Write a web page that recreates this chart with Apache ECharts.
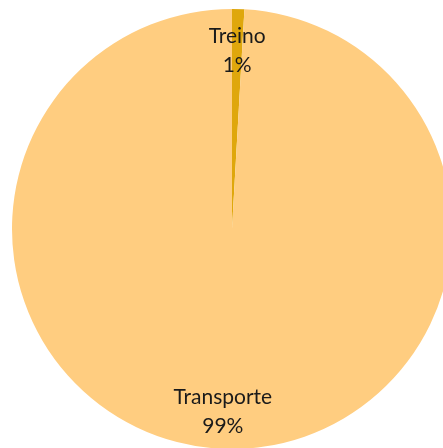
<!DOCTYPE html>
<html lang="pt">
<head>
    <meta charset="UTF-8">
    <title>Treino / Transporte</title>
    <script src="https://cdn.jsdelivr.net/npm/echarts@6/dist/echarts.min.js"></script>
    <style>
        * { margin: 0; padding: 0 }
        html, body { width: 100%; height: 100%; background: #fff; }
        #main { width: 443px; height: 448px; }
    </style>
</head>
<body>
<div id="main"></div>
<script>
    // categorias e valores (percentagens)
    var categories = ['Treino', 'Transporte'];
    var values = [0.9, 99.1];
    var colors = ['#DFA70C', '#FFCD80'];

    var pieData = categories.map(function (name, i) {
        return {name: name, value: values[i], itemStyle: {color: colors[i]}};
    });

    var myChart = echarts.init(document.getElementById('main'));

    var option = {
        animation: false,
        series: [
            {
                type: 'pie',
                center: [232, 229],
                radius: [0, 220],
                startAngle: 90,
                clockwise: true,
                silent: true,
                label: {show: false},
                labelLine: {show: false},
                data: pieData
            },
            {
                // anel invisível só para posicionar os rótulos perto da borda
                type: 'pie',
                center: [232, 229],
                radius: [160, 200],
                startAngle: 90,
                clockwise: true,
                silent: true,
                itemStyle: {color: 'rgba(0,0,0,0)'},
                label: {
                    show: true,
                    position: 'inside',
                    fontFamily: 'Lato',
                    fontSize: 21,
                    lineHeight: 29,
                    color: '#1a1a1a',
                    formatter: function (p) {
                        return p.name + '\n' + Math.round(p.value) + '%';
                    }
                },
                labelLayout: function (params) {
                    return params.dataIndex === 0 ? {dx: 0, dy: 5} : {dx: -4, dy: 0};
                },
                labelLine: {show: false},
                data: categories.map(function (name, i) {
                    return {name: name, value: values[i]};
                })
            }
        ]
    };

    myChart.setOption(option);
</script>
</body>
</html>
